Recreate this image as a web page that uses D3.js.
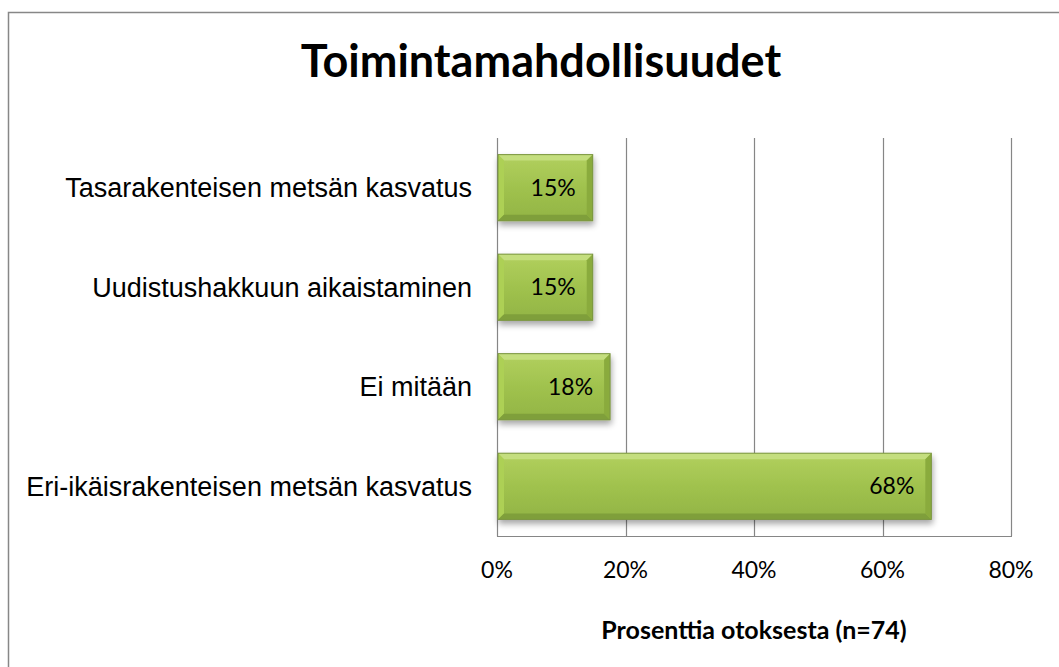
<!DOCTYPE html>
<html><head><meta charset="utf-8">
<script src="https://cdn.jsdelivr.net/npm/d3@7/dist/d3.min.js"></script>
<style>html,body{margin:0;padding:0;background:#fff;}svg{display:block;}</style>
</head><body>
<script>
const categories = ["Tasarakenteisen metsän kasvatus","Uudistushakkuun aikaistaminen","Ei mitään","Eri-ikäisrakenteisen metsän kasvatus"];
const values = [0.149, 0.149, 0.176, 0.676];
const tickValues = [0, 0.2, 0.4, 0.6, 0.8];
const title = "Toimintamahdollisuudet";
const xTitle = "Prosenttia otoksesta (n=74)";

const W = 1059, H = 667;
const svg = d3.select("body").append("svg").attr("width", W).attr("height", H);
const defs = svg.append("defs");
const g1 = defs.append("linearGradient").attr("id","body").attr("x1",0).attr("y1",0).attr("x2",0).attr("y2",1);
g1.append("stop").attr("offset","0%").attr("stop-color","#b2d05e");
g1.append("stop").attr("offset","50%").attr("stop-color","#a0c24e");
g1.append("stop").attr("offset","100%").attr("stop-color","#92b444");
const f = defs.append("filter").attr("id","sh").attr("x","-10%").attr("y","-20%").attr("width","130%").attr("height","160%");
f.append("feGaussianBlur").attr("in","SourceAlpha").attr("stdDeviation",3);
f.append("feOffset").attr("dx",1).attr("dy",4).attr("result","o");
f.append("feComponentTransfer").append("feFuncA").attr("type","linear").attr("slope",0.35);
const fm = f.append("feMerge"); fm.append("feMergeNode"); fm.append("feMergeNode").attr("in","SourceGraphic");

svg.append("rect").attr("x",8.5).attr("y",12.5).attr("width",1200).attr("height",800)
  .attr("fill","none").attr("stroke","#878787").attr("stroke-width",1.5);

const m = {l:497, r:1011, t:138, b:536};
const x = d3.scaleLinear().domain([0,0.8]).range([m.l, m.r]);
const y = d3.scaleBand().domain(categories).range([m.t, m.b]).paddingInner(0.335).paddingOuter(0.167);

// gridlines
svg.append("g").selectAll("line").data(tickValues.slice(1)).join("line")
  .attr("x1", d=>Math.round(x(d))+0.5).attr("x2", d=>Math.round(x(d))+0.5)
  .attr("y1", m.t).attr("y2", m.b).attr("stroke","#868686").attr("stroke-width",1.2);
// axes
svg.append("line").attr("x1",m.l+0.5).attr("x2",m.l+0.5).attr("y1",m.t).attr("y2",m.b+0.5).attr("stroke","#868686").attr("stroke-width",1.2);
svg.append("line").attr("x1",m.l).attr("x2",m.r+1).attr("y1",m.b+0.5).attr("y2",m.b+0.5).attr("stroke","#868686").attr("stroke-width",1.2);

// bars
const bw = 6;
const bars = svg.append("g").selectAll("g").data(categories).join("g").attr("filter","url(#sh)");
bars.each(function(c,i){
  const gg = d3.select(this);
  const x0 = x(0)+1, x1 = x(values[i]), y0 = y(c), y1 = y(c)+y.bandwidth();
  gg.append("rect").attr("x",x0).attr("y",y0).attr("width",x1-x0).attr("height",y1-y0).attr("fill","url(#body)");
  gg.append("path").attr("d",`M${x0},${y0}L${x1},${y0}L${x1-bw},${y0+bw}L${x0+bw},${y0+bw}Z`).attr("fill","#c4de7e");
  gg.append("path").attr("d",`M${x0},${y0}L${x0+bw},${y0+bw}L${x0+bw},${y1-bw}L${x0},${y1}Z`).attr("fill","#add055");
  gg.append("path").attr("d",`M${x0},${y1}L${x0+bw},${y1-bw}L${x1-bw},${y1-bw}L${x1},${y1}Z`).attr("fill","#7f9f3a");
  gg.append("path").attr("d",`M${x1},${y0}L${x1},${y1}L${x1-bw},${y1-bw}L${x1-bw},${y0+bw}Z`).attr("fill","#8aab3e");
  gg.append("rect").attr("x",x0).attr("y",y0).attr("width",x1-x0).attr("height",y1-y0)
    .attr("fill","none").attr("stroke","#7a9540").attr("stroke-width",1);
});

// data labels
svg.append("g").selectAll("text").data(categories).join("text")
  .attr("x",(c,i)=>x(values[i])-17).attr("y",c=>y(c)+y.bandwidth()/2)
  .attr("dy","0.35em").attr("text-anchor","end")
  .attr("font-family","Lato, 'Open Sans', sans-serif").attr("font-size",23).attr("fill","#000")
  .text((c,i)=>d3.format(".0%")(values[i]));

// category labels
svg.append("g").selectAll("text").data(categories).join("text")
  .attr("x",472).attr("y",c=>y(c)+y.bandwidth()/2).attr("dy","0.35em").attr("text-anchor","end")
  .attr("font-family","'Liberation Sans', Arial, sans-serif").attr("font-size",27).attr("fill","#000")
  .text(c=>c);

// tick labels
svg.append("g").selectAll("text").data(tickValues).join("text")
  .attr("x",d=>x(d)).attr("y",570).attr("dy","0.35em").attr("text-anchor","middle")
  .attr("font-family","Lato, 'Open Sans', sans-serif").attr("font-size",23).attr("fill","#000")
  .text(d=>d3.format(".0%")(d));

svg.append("text").attr("x",754).attr("y",630).attr("dy","0.35em").attr("text-anchor","middle")
  .attr("font-family","Lato, 'Open Sans', sans-serif").attr("font-weight","bold").attr("font-size",25)
  .text(xTitle);

svg.append("text").attr("x",541).attr("y",77).attr("text-anchor","middle")
  .attr("font-family","Lato, 'Open Sans', sans-serif").attr("font-weight","bold").attr("font-size",45)
  .text(title);
</script>
</body></html>
